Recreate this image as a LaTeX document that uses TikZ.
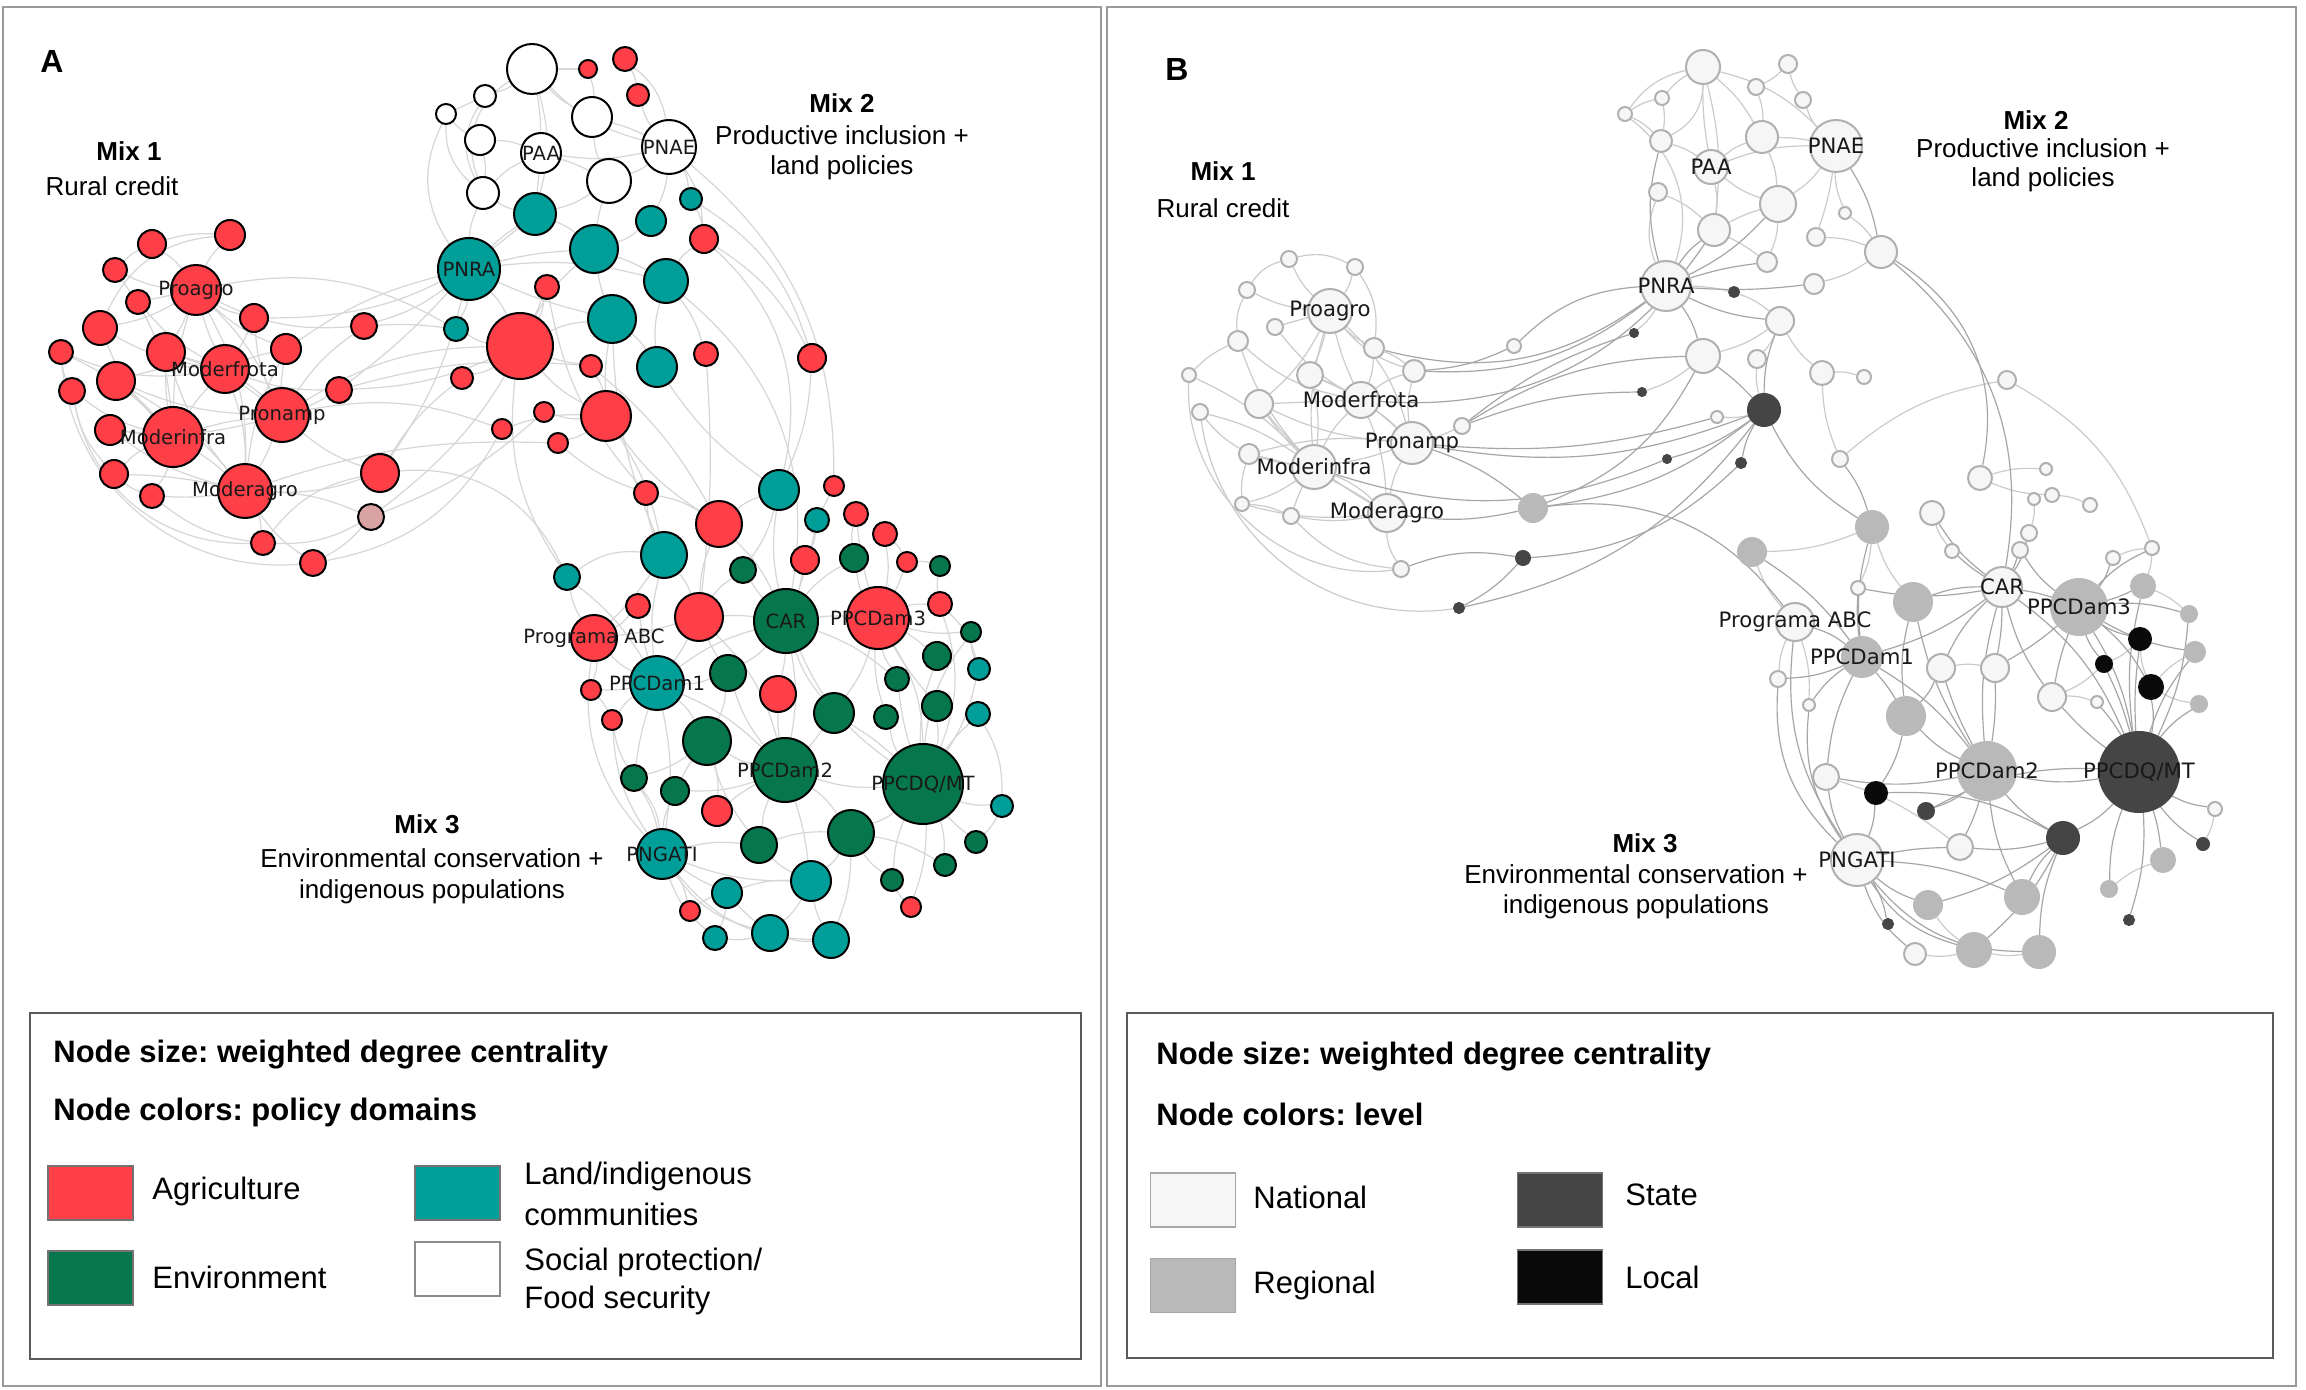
\documentclass[tikz,border=0pt]{standalone}
\usepackage{fontspec}
\setmainfont{Liberation Sans}
\newfontfamily\vfont{DejaVu Sans}
\frenchspacing
\pgfdeclarelayer{bglayer}
\pgfdeclarelayer{edgelayer}
\pgfsetlayers{bglayer,edgelayer,main}
\definecolor{cAgr}{HTML}{FF3F48}
\definecolor{cLnd}{HTML}{009E98}
\definecolor{cEnv}{HTML}{06774C}
\definecolor{cPnk}{HTML}{D9A3A3}
\definecolor{cNat}{HTML}{F6F6F6}
\definecolor{cNatD}{HTML}{B0B0B0}
\definecolor{cReg}{HTML}{B9B9B9}
\definecolor{cSta}{HTML}{454545}
\definecolor{cLoc}{HTML}{0A0A0A}
\definecolor{cEdgeA}{HTML}{D6D6D6}
\definecolor{cEdgeB}{HTML}{CBCBCB}
\definecolor{cEdgeB2}{HTML}{A6A6A6}
\definecolor{cFrame}{HTML}{9A9A9A}
\definecolor{cBox}{HTML}{5A5A5A}
\newcommand\mynd[5]{\node[#5,minimum size=#4pt] (#1) at (#2,#3) {};}
\newcommand\mylb[3]{\node[#3] (#1-t) at (#1) {#2};}
\tikzset{
  nA/.style={circle, draw=black, line width=1pt, inner sep=0pt},
  agr/.style={nA, fill=cAgr},
  lnd/.style={nA, fill=cLnd},
  env/.style={nA, fill=cEnv},
  soc/.style={nA, fill=white},
  pnk/.style={nA, fill=cPnk},
  nB/.style={circle, inner sep=0pt, line width=1pt},
  nat/.style={nB, fill=cNat, draw=cNatD},
  reg/.style={nB, fill=cReg, draw=cReg},
  sta/.style={nB, fill=cSta, draw=cSta},
  loc/.style={nB, fill=cLoc, draw=cLoc},
  eA/.style={draw=cEdgeA, line width=0.6pt},
  eB/.style={draw=cEdgeB, line width=0.6pt},
  eBd/.style={draw=cEdgeB2, line width=0.6pt},
  txtA/.style={font=\vfont\fontsize{9.8}{11}\selectfont, inner sep=0pt, text=black!90},
  txtB/.style={font=\vfont\fontsize{10.6}{12}\selectfont, inner sep=0pt, text=black!90},
  mixh/.style={font=\bfseries\fontsize{13}{15}\selectfont, inner sep=0pt},
  mixt/.style={font=\fontsize{13}{15}\selectfont, inner sep=0pt},
  legh/.style={font=\bfseries\fontsize{15.5}{18}\selectfont, anchor=west, inner sep=0pt},
  legt/.style={font=\fontsize{15.5}{18}\selectfont, anchor=west, inner sep=0pt},
  swatch/.style={rectangle, minimum width=42.5pt, minimum height=27pt, inner sep=0pt, draw=black!55, line width=0.6pt},
  panlbl/.style={font=\bfseries\fontsize{16}{18}\selectfont, inner sep=0pt}
}
\begin{document}
\begin{tikzpicture}[x=0.5pt,y=-0.5pt]
\useasboundingbox (0,0) rectangle (2306,1390);
\begin{pgfonlayer}{bglayer}
\fill[white] (0,0) rectangle (2306,1390);
\draw[cFrame, line width=1.3pt] (3,7) rectangle (1101,1386);
\draw[cFrame, line width=1.3pt] (1107,7) rectangle (2296,1386);
\end{pgfonlayer}

% ================= PANEL A nodes =================
\mynd{a1}{532}{69}{25}{soc}
\mynd{a2}{588}{69}{9}{agr}
\mynd{a3}{625}{59}{12}{agr}
\mynd{a4}{485}{96}{11}{soc}
\mynd{a5}{446}{114}{10}{soc}
\mynd{a6}{638}{95}{11}{agr}
\mynd{a7}{592}{117}{20}{soc}
\mynd{a8}{480}{140}{15}{soc}
\mynd{a9}{541}{153}{20}{soc}
\mynd{a10}{669}{147}{27}{soc}
\mynd{a11}{609}{181}{22}{soc}
\mynd{a12}{483}{193}{16}{soc}
\mynd{a13}{691}{199}{11}{lnd}
\mynd{a14}{535}{214}{21}{lnd}
\mynd{a15}{651}{221}{15}{lnd}
\mynd{a16}{704}{239}{14}{agr}
\mynd{a17}{469}{269}{31}{lnd}
\mynd{a18}{594}{249}{24}{lnd}
\mynd{a19}{547}{287}{12}{agr}
\mynd{a20}{666}{281}{22}{lnd}
\mynd{a21}{456}{329}{12}{lnd}
\mynd{a22}{520}{346}{33}{agr}
\mynd{a23}{612}{319}{24}{lnd}
\mynd{a24}{812}{358}{14}{agr}
\mynd{a25}{706}{354}{12}{agr}
\mynd{a26}{591}{366}{11}{agr}
\mynd{a27}{657}{367}{20}{lnd}
\mynd{a28}{462}{378}{11}{agr}
\mynd{a29}{544}{412}{10}{agr}
\mynd{a30}{606}{416}{25}{agr}
\mynd{a31}{502}{429}{10}{agr}
\mynd{a32}{558}{443}{10}{agr}

\mynd{m1}{230}{235}{15}{agr}
\mynd{m2}{152}{244}{14}{agr}
\mynd{m3}{115}{270}{12}{agr}
\mynd{m4}{196}{290}{25}{agr}
\mynd{m5}{138}{302}{12}{agr}
\mynd{m6}{254}{318}{14}{agr}
\mynd{m7}{100}{328}{17}{agr}
\mynd{m8}{364}{326}{13}{agr}
\mynd{m9}{61}{352}{12}{agr}
\mynd{m10}{166}{352}{19}{agr}
\mynd{m11}{286}{349}{15}{agr}
\mynd{m12}{225}{369}{24}{agr}
\mynd{m13}{116}{381}{19}{agr}
\mynd{m14}{72}{391}{13}{agr}
\mynd{m15}{339}{390}{13}{agr}
\mynd{m16}{282}{415}{27}{agr}
\mynd{m17}{110}{430}{15}{agr}
\mynd{m18}{173}{437}{30}{agr}
\mynd{m19}{114}{474}{14}{agr}
\mynd{m20}{245}{491}{27}{agr}
\mynd{m21}{380}{473}{19}{agr}
\mynd{m22}{371}{517}{13}{pnk}
\mynd{m23}{152}{496}{12}{agr}
\mynd{m24}{263}{543}{12}{agr}
\mynd{m25}{313}{563}{13}{agr}

\mynd{c1}{646}{493}{12}{agr}
\mynd{c2}{779}{490}{20}{lnd}
\mynd{c3}{834}{486}{10}{agr}
\mynd{c4}{719}{524}{23}{agr}
\mynd{c5}{817}{520}{12}{lnd}
\mynd{c6}{856}{514}{12}{agr}
\mynd{c7}{885}{534}{12}{agr}
\mynd{c8}{664}{555}{23}{lnd}
\mynd{c9}{743}{570}{13}{env}
\mynd{c10}{805}{560}{14}{agr}
\mynd{c11}{854}{558}{14}{env}
\mynd{c12}{907}{562}{10}{agr}
\mynd{c13}{940}{566}{10}{env}
\mynd{c14}{567}{577}{13}{lnd}
\mynd{c15}{638}{606}{12}{agr}
\mynd{c16}{699}{617}{24}{agr}
\mynd{c17}{786}{621}{32}{env}
\mynd{c18}{878}{618}{31}{agr}
\mynd{c19}{940}{604}{12}{agr}
\mynd{c20}{594}{638}{23}{agr}
\mynd{c21}{971}{632}{10}{env}
\mynd{c22}{728}{673}{18}{env}
\mynd{c23}{657}{683}{27}{lnd}
\mynd{c24}{591}{690}{10}{agr}
\mynd{c25}{937}{656}{14}{env}
\mynd{c26}{979}{669}{11}{lnd}
\mynd{c27}{778}{694}{18}{agr}
\mynd{c28}{897}{679}{12}{env}
\mynd{c29}{834}{713}{20}{env}
\mynd{c30}{886}{717}{12}{env}
\mynd{c31}{937}{706}{15}{env}
\mynd{c32}{978}{714}{12}{lnd}
\mynd{c33}{612}{720}{10}{agr}
\mynd{c34}{707}{741}{24}{env}
\mynd{c35}{785}{770}{32}{env}
\mynd{c36}{923}{784}{40}{env}
\mynd{c37}{634}{778}{13}{env}
\mynd{c38}{675}{791}{14}{env}
\mynd{c39}{717}{811}{15}{agr}
\mynd{c40}{1002}{806}{11}{lnd}
\mynd{c41}{851}{833}{23}{env}
\mynd{c42}{759}{845}{18}{env}
\mynd{c43}{976}{842}{11}{env}
\mynd{c44}{662}{854}{25}{lnd}
\mynd{c45}{945}{865}{11}{env}
\mynd{c46}{811}{881}{20}{lnd}
\mynd{c47}{892}{880}{11}{env}
\mynd{c48}{727}{893}{15}{lnd}
\mynd{c49}{690}{911}{10}{agr}
\mynd{c50}{911}{907}{10}{agr}
\mynd{c51}{715}{938}{12}{lnd}
\mynd{c52}{770}{933}{18}{lnd}
\mynd{c53}{831}{940}{18}{lnd}

\mylb{a9}{PAA}{txtA}
\mylb{a10}{PNAE}{txtA}
\mylb{a17}{PNRA}{txtA}
\mylb{m4}{Proagro}{txtA}
\mylb{m12}{Moderfrota}{txtA}
\mylb{m16}{Pronamp}{txtA}
\mylb{m18}{Moderinfra}{txtA}
\mylb{m20}{Moderagro}{txtA}
\mylb{c17}{CAR}{txtA}
\mylb{c18}{PPCDam3}{txtA}
\mylb{c20}{Programa ABC}{txtA}
\mylb{c23}{PPCDam1}{txtA}
\mylb{c35}{PPCDam2}{txtA}
\mylb{c36}{PPCDQ/MT}{txtA}
\mylb{c44}{PNGATI}{txtA}

\begin{pgfonlayer}{edgelayer}
\foreach \u/\v/\b in {m4/m1/10, m4/m2/-10, m4/m3/10, m4/m5/0, m4/m6/-10, m4/m7/10, m4/m10/5, m4/m12/-5, m4/m16/10, m4/m18/-8, m4/m20/15, m4/m11/-10, m4/m8/-15,
m12/m5/10, m12/m6/-5, m12/m7/10, m12/m10/0, m12/m11/5, m12/m13/-10, m12/m16/5, m12/m18/-5, m12/m20/10, m12/m15/-10, m12/m9/15,
m16/m6/10, m16/m10/-10, m16/m11/5, m16/m13/10, m16/m15/-5, m16/m17/10, m16/m18/-5, m16/m20/5, m16/m21/-10, m16/m8/10,
m18/m7/10, m18/m9/-10, m18/m10/5, m18/m13/-5, m18/m14/10, m18/m17/0, m18/m19/-10, m18/m20/5, m18/m23/10, m18/m3/-15,
m20/m10/10, m20/m13/-10, m20/m17/10, m20/m19/-5, m20/m21/-10, m20/m22/10, m20/m23/5, m20/m24/10, m20/m25/-10, m20/m11/10,
m9/m25/-45, m14/m24/-40, m7/m1/30, m2/m1/10, m3/m2/10, m9/m14/-10, m14/m19/-15, m19/m23/-10, m23/m24/-15, m24/m22/-15, m22/m25/10,
m11/a17/10, m8/a17/-10, m15/a22/-10, m16/a22/15, m21/a17/-10, m21/a28/10, m16/a31/15, m20/a32/10, m22/a19/-15, m8/a21/5, m6/a14/-20, m15/a26/10, m22/a29/-10, m21/c14/35, m4/a21/20, m25/a31/-25, m24/m21/20, m15/a17/-5,
a1/a4/10, a1/a7/-10, a1/a9/5, a1/a10/-15, a1/a14/15, a1/a2/0, a4/a5/0, a5/a8/-10, a8/a9/10, a9/a10/-10, a9/a11/5, a9/a14/0, a10/a11/10, a10/a7/-5, a10/a13/10, a10/a16/15, a7/a11/-10, a11/a14/10, a11/a18/-5, a12/a17/-10, a12/a9/10, a14/a17/-5, a14/a18/10, a17/a18/5, a17/a22/10, a17/a23/-5, a17/a20/10, a18/a22/-10, a18/a20/5, a18/a23/-5, a22/a23/10, a22/a30/-10, a23/a27/10, a23/a30/-5, a20/a27/-10, a20/a25/10, a22/a26/-5, a26/a30/10, a29/a30/-10, a31/a30/10, a32/a30/-10, a15/a18/10, a15/a10/-10, a3/a6/10, a6/a10/-10, a2/a7/10, a12/a14/-10, a8/a12/10, a5/a12/-25, a17/a21/10, a21/a22/-10, a19/a22/10, a28/a22/-10, a4/a12/-30, a13/a16/10, a16/a20/-10, a5/a17/-30, a1/a12/-40, a3/a10/20,
a16/c2/30, a24/c2/10, a24/a16/-15, a10/c3/25, a30/c4/-10, a30/c8/10, a27/c2/-10, a25/c16/5, a22/c14/-20, a20/c17/30, a13/a24/20, a23/c8/-10, a19/c1/-15, a32/c1/-10, a26/c4/10,
c17/c2/10, c17/c4/-10, c17/c9/5, c17/c10/-5, c17/c11/10, c17/c16/-5, c17/c18/5, c17/c22/10, c17/c23/-10, c17/c27/5, c17/c29/-10, c17/c35/10, c17/c36/-15, c17/c28/10, c17/c5/-5,
c18/c6/5, c18/c7/-10, c18/c11/10, c18/c12/-5, c18/c19/10, c18/c21/-10, c18/c25/5, c18/c28/-10, c18/c29/10, c18/c31/-5, c18/c36/15, c18/c30/-10,
c35/c22/10, c35/c23/-10, c35/c27/5, c35/c29/-5, c35/c34/10, c35/c36/-10, c35/c38/10, c35/c39/-5, c35/c41/10, c35/c42/-10, c35/c46/5, c35/c16/-15,
c36/c25/10, c36/c26/-10, c36/c28/5, c36/c29/-5, c36/c30/10, c36/c31/-10, c36/c32/5, c36/c40/-10, c36/c41/10, c36/c43/-5, c36/c45/10, c36/c47/-10, c36/c21/15, c36/c19/-20,
c23/c8/10, c23/c14/-10, c23/c15/5, c23/c16/-5, c23/c20/10, c23/c22/-10, c23/c24/5, c23/c33/-10, c23/c34/10, c23/c37/-5, c23/c44/10,
c44/c37/-10, c44/c38/10, c44/c48/-5, c44/c49/10, c44/c51/-15, c44/c52/-20, c44/c53/-25, c44/c42/10, c44/c46/-10, c44/c33/15, c44/c20/25,
c16/c4/10, c16/c8/-10, c16/c20/5, c16/c22/-5, c16/c9/10,
c34/c22/-10, c34/c37/10, c34/c38/-5, c34/c39/10, c34/c42/-10,
c41/c46/10, c41/c47/-10, c41/c45/10, c41/c42/-10, c41/c53/10,
c46/c48/-10, c46/c52/10, c46/c53/-10, c46/c42/10,
c52/c51/10, c52/c53/-10, c52/c48/5,
c20/c14/10, c20/c15/-10, c20/c24/10, c20/c8/-5,
c14/c8/20, c2/c4/-10, c2/c9/10, c3/c5/0, c5/c10/10, c6/c11/-10, c7/c12/10, c13/c19/-10, c12/c13/10, c1/c4/10, c1/c8/-10, c19/c26/15, c21/c26/-10, c32/c40/15, c43/c40/-10, c50/c47/10, c50/c36/-10, c24/c33/10, c33/c37/-10, c37/c44/15, c49/c48/10, c51/c48/-10}
  \draw[eA] (\u) to[bend left=\b] (\v);
\end{pgfonlayer}

% labels panel A
\node[panlbl] (lblA) at (52,61) {A};
\node[mixh] (mixA1) at (129,151) {Mix 1};
\node[mixt] (mixA1t) at (112,186) {Rural credit};
\node[mixh] (mixA2) at (842,103) {Mix 2};
\node[mixt] (mixA2t) at (842,135) {Productive inclusion +};
\node[mixt] (mixA2u) at (842,168) {land policies};
\node[mixh] (mixA3) at (427,824) {Mix 3};
\node[mixt] (mixA3t) at (432,858) {Environmental conservation +};
\node[mixt] (mixA3u) at (432,892) {indigenous populations};

% legend A
\draw[cBox, line width=1pt] (30,1013) rectangle (1081,1359);
\node[legh] (lgA1) at (53,1055) {Node size: weighted degree centrality};
\node[legh] (lgA2) at (53,1112) {Node colors: policy domains};
\node[swatch, fill=cAgr] (swAgr) at (90.5,1193) {};
\node[swatch, fill=cEnv] (swEnv) at (90.5,1278) {};
\node[swatch, fill=cLnd] (swLnd) at (457.5,1193) {};
\node[swatch, fill=white, draw=black!45] (swSoc) at (457.5,1269) {};
\node[legt] (lgAgr) at (152,1191) {Agriculture};
\node[legt] (lgEnv) at (152,1277) {Environment};
\node[legt] (lgLnd1) at (524,1176) {Land/indigenous};
\node[legt] (lgLnd2) at (524,1214) {communities};
\node[legt] (lgSoc1) at (524,1262) {Social protection/};
\node[legt] (lgSoc2) at (524,1300) {Food security};

% ================= PANEL B nodes =================
\mynd{n1}{1703}{67}{17}{nat}
\mynd{n2}{1788}{64}{9}{nat}
\mynd{n3}{1662}{98}{7}{nat}
\mynd{n4}{1756}{87}{8}{nat}
\mynd{n5}{1625}{114}{7}{nat}
\mynd{n6}{1803}{100}{8}{nat}
\mynd{n7}{1661}{141}{11}{nat}
\mynd{n8}{1762}{137}{16}{nat}
\mynd{n9}{1836}{146}{26}{nat}
\mynd{n10}{1711}{167}{17}{nat}
\mynd{n11}{1658}{192}{9}{nat}
\mynd{n12}{1778}{204}{18}{nat}
\mynd{n13}{1845}{213}{6}{nat}
\mynd{n14}{1714}{230}{16}{nat}
\mynd{n15}{1816}{237}{9}{nat}
\mynd{n16}{1881}{252}{16}{nat}
\mynd{n17}{1767}{262}{10}{nat}
\mynd{n18}{1666}{286}{25}{nat}
\mynd{n19}{1734}{292}{5}{sta}
\mynd{n20}{1814}{284}{10}{nat}
\mynd{n21}{1780}{321}{14}{nat}
\mynd{n22}{1634}{333}{4}{sta}
\mynd{n23}{1703}{356}{17}{nat}
\mynd{n24}{1757}{359}{9}{nat}
\mynd{n25}{1822}{373}{12}{nat}
\mynd{n26}{1864}{377}{7}{nat}
\mynd{n27}{2007}{380}{9}{nat}
\mynd{n28}{1642}{392}{4}{sta}
\mynd{n29}{1764}{410}{16}{sta}
\mynd{n30}{1717}{417}{6}{nat}
\mynd{n31}{1667}{459}{4}{sta}
\mynd{n32}{1741}{463}{5}{sta}
\mynd{n33}{1840}{459}{8}{nat}
\mynd{n34}{1514}{346}{7}{nat}
\mynd{n35}{1980}{478}{12}{nat}
\mynd{n36}{2046}{469}{6}{nat}
\mynd{n37}{2052}{495}{7}{nat}
\mynd{n38}{2034}{499}{6}{nat}
\mynd{n39}{2090}{505}{7}{nat}

\mynd{p1}{1289}{259}{8}{nat}
\mynd{p2}{1355}{267}{8}{nat}
\mynd{p3}{1247}{290}{8}{nat}
\mynd{p4}{1330}{311}{22}{nat}
\mynd{p5}{1275}{327}{8}{nat}
\mynd{p6}{1238}{341}{10}{nat}
\mynd{p7}{1374}{348}{10}{nat}
\mynd{p8}{1189}{375}{7}{nat}
\mynd{p9}{1310}{375}{13}{nat}
\mynd{p10}{1414}{371}{11}{nat}
\mynd{p11}{1259}{404}{14}{nat}
\mynd{p12}{1361}{400}{18}{nat}
\mynd{p13}{1200}{412}{8}{nat}
\mynd{p14}{1462}{426}{8}{nat}
\mynd{p15}{1412}{443}{21}{nat}
\mynd{p16}{1249}{454}{10}{nat}
\mynd{p17}{1314}{467}{22}{nat}
\mynd{p18}{1242}{504}{7}{nat}
\mynd{p19}{1291}{516}{8}{nat}
\mynd{p20}{1387}{513}{19}{nat}
\mynd{p21}{1401}{569}{8}{nat}
\mynd{p22}{1533}{508}{14}{reg}
\mynd{p23}{1523}{558}{7}{sta}
\mynd{p24}{1459}{608}{5}{sta}

\mynd{q1}{1932}{513}{12}{nat}
\mynd{q2}{1872}{527}{16}{reg}
\mynd{q3}{2029}{533}{8}{nat}
\mynd{q4}{1752}{552}{14}{reg}
\mynd{q5}{1952}{551}{7}{nat}
\mynd{q6}{2020}{550}{8}{nat}
\mynd{q7}{2113}{558}{7}{nat}
\mynd{q8}{2152}{548}{7}{nat}
\mynd{q9}{1858}{588}{7}{nat}
\mynd{q10}{1913}{602}{19}{reg}
\mynd{q11}{2002}{587}{20}{nat}
\mynd{q12}{2079}{607}{28}{reg}
\mynd{q13}{2143}{586}{12}{reg}
\mynd{q14}{2189}{614}{8}{reg}
\mynd{q15}{1795}{622}{19}{nat}
\mynd{q16}{2140}{639}{11}{loc}
\mynd{q17}{1862}{657}{20}{reg}
\mynd{q18}{1941}{668}{14}{nat}
\mynd{q19}{1995}{668}{14}{nat}
\mynd{q20}{2104}{664}{8}{loc}
\mynd{q21}{2195}{652}{10}{reg}
\mynd{q22}{1778}{679}{8}{nat}
\mynd{q23}{2151}{687}{12}{loc}
\mynd{q24}{2052}{697}{14}{nat}
\mynd{q25}{2097}{702}{6}{nat}
\mynd{q26}{1809}{705}{6}{nat}
\mynd{q27}{2199}{704}{8}{reg}
\mynd{q28}{1906}{716}{19}{reg}
\mynd{q29}{1987}{771}{29}{reg}
\mynd{q30}{2139}{772}{40}{sta}
\mynd{q31}{1826}{777}{13}{nat}
\mynd{q32}{1876}{793}{11}{loc}
\mynd{q33}{1926}{811}{8}{sta}
\mynd{q34}{2215}{809}{7}{nat}
\mynd{q35}{2063}{838}{16}{sta}
\mynd{q36}{1960}{847}{13}{nat}
\mynd{q37}{2203}{844}{6}{sta}
\mynd{q38}{1857}{860}{26}{nat}
\mynd{q39}{2163}{860}{12}{reg}
\mynd{q40}{1928}{905}{14}{reg}
\mynd{q41}{2022}{897}{17}{reg}
\mynd{q42}{2109}{889}{8}{reg}
\mynd{q43}{1888}{924}{5}{sta}
\mynd{q44}{2129}{920}{5}{sta}
\mynd{q45}{1915}{954}{11}{nat}
\mynd{q46}{1974}{950}{17}{reg}
\mynd{q47}{2039}{952}{16}{reg}

\mylb{n10}{PAA}{txtB}
\mylb{n9}{PNAE}{txtB}
\mylb{n18}{PNRA}{txtB}
\mylb{p4}{Proagro}{txtB}
\mylb{p12}{Moderfrota}{txtB}
\mylb{p15}{Pronamp}{txtB}
\mylb{p17}{Moderinfra}{txtB}
\mylb{p20}{Moderagro}{txtB}
\mylb{q11}{CAR}{txtB}
\mylb{q12}{PPCDam3}{txtB}
\mylb{q15}{Programa ABC}{txtB}
\mylb{q17}{PPCDam1}{txtB}
\mylb{q29}{PPCDam2}{txtB}
\mylb{q30}{PPCDQ/MT}{txtB}
\mylb{q38}{PNGATI}{txtB}

\begin{pgfonlayer}{edgelayer}
\foreach \u/\v/\b in {p4/p1/10, p4/p2/-10, p4/p3/10, p4/p5/0, p4/p7/-10, p4/p9/5, p4/p12/-5, p4/p15/15, p4/p17/-10, p4/p10/-15, p4/p11/10,
p12/p5/10, p12/p9/-5, p12/p10/10, p12/p11/0, p12/p15/5, p12/p17/-10, p12/p20/10, p12/p7/-10, p12/p6/15,
p15/p9/-10, p15/p10/10, p15/p14/-5, p15/p17/5, p15/p20/-10, p15/p11/10, p15/p16/-10,
p17/p6/10, p17/p8/-10, p17/p11/5, p17/p13/-10, p17/p16/5, p17/p18/10, p17/p19/-5, p17/p20/10, p17/p9/-10,
p20/p11/10, p20/p16/-10, p20/p19/10, p20/p21/-15, p20/p18/10,
p8/p21/-50, p13/p24/-45, p1/p3/-20, p1/p2/20, p6/p8/-10, p3/p6/-15, p13/p16/-10, p16/p18/-10, p18/p19/10, p19/p21/-20, p2/p7/20, p7/p10/10,
n1/n3/-10, n1/n8/10, n1/n10/-5, n1/n9/15, n1/n14/10, n1/n5/-20, n2/n4/10, n2/n6/-10, n3/n5/-10, n4/n8/10, n6/n9/-10, n7/n10/10, n8/n9/5, n8/n10/-10, n8/n12/10, n9/n10/-10, n9/n12/10, n9/n13/-10, n9/n15/5, n10/n14/10, n10/n12/-10, n11/n14/10, n12/n14/-5, n14/n17/5, n18/n19/5, n19/n21/10, n20/n16/-10, n21/n23/10, n24/n29/-10, n29/n30/10, n23/n28/10, n22/n18/-10, n25/n21/10, n26/n25/-10, n15/n16/10, n25/n33/-10, n35/n36/10, n35/n37/-10, n37/n39/10, n38/q3/10, n27/q8/20, n27/n33/-15, n5/n7/10, n3/n7/10, n11/n18/-20, n12/n17/10, n24/n21/-10, n13/n16/10, n1/n7/30, n5/n18/35,
q16/q20/10, q16/q23/-10, q13/q14/10, q21/q23/-10, q27/q23/10, q25/q24/-10, q34/q37/10, q39/q42/-10, q3/q6/10, q1/q5/-10, q7/q8/10, q13/q8/-10, q18/q19/10, q24/q20/-10, q36/q31/-10,
q15/q4/10, q15/q22/-10, q15/q26/10, q2/q4/10, q2/q10/-10, q2/q9/10, q46/q45/10, q46/q47/-10, q46/q40/10}
  \draw[eB] (\u) to[bend left=\b] (\v);
\foreach \u/\v/\b in {p10/n18/-20, p10/n34/-10, p14/n23/15, p15/n29/-15, p15/p22/10, p20/p22/-10, p21/p23/15, p22/n29/-15, p22/n23/-20, p23/p24/10, p24/n29/-20, p22/q15/30, p7/n18/-25, n34/n18/20, p14/n22/10, p15/n30/-10, p12/n14/-30, p17/n31/-20, p23/n32/-20, p14/n28/10,
n7/n18/-15, n12/n18/10, n14/n18/-10, n17/n18/-5, n18/n21/-10, n18/n23/10, n18/n20/-5, n21/n29/-10, n23/n29/5, n29/n32/-10, n29/n31/10, n9/n16/10, n16/n35/35, n16/q11/30, n33/q2/10, n29/q2/-15,
q11/q1/10, q11/q3/-10, q11/q5/5, q11/q6/-5, q11/q9/10, q11/q10/-10, q11/q12/5, q11/q17/10, q11/q18/-10, q11/q19/5, q11/q29/-10, q11/q30/15, q11/q24/-10,
q12/q6/10, q12/q7/-10, q12/q8/10, q12/q13/-5, q12/q14/10, q12/q16/-10, q12/q19/5, q12/q20/-10, q12/q23/10, q12/q24/-5, q12/q30/10, q12/q21/-10,
q29/q10/10, q29/q17/-10, q29/q18/5, q29/q19/-5, q29/q28/10, q29/q30/-10, q29/q33/10, q29/q35/-10, q29/q36/5, q29/q41/-10, q29/q31/10,
q30/q13/10, q30/q14/-10, q30/q16/5, q30/q20/-5, q30/q21/10, q30/q23/-10, q30/q24/5, q30/q25/-5, q30/q27/10, q30/q34/-10, q30/q35/10, q30/q37/-10, q30/q39/5, q30/q42/-10, q30/q44/10, q30/q33/-15,
q17/q2/10, q17/q4/-10, q17/q9/5, q17/q15/-10, q17/q22/10, q17/q26/-10, q17/q28/5, q17/q31/-10,
q38/q31/10, q38/q32/-10, q38/q36/5, q38/q40/-10, q38/q41/10, q38/q45/-15, q38/q46/-20, q38/q47/-25, q38/q43/10, q38/q26/20, q38/q22/25, q15/q38/-20,
q35/q40/10, q35/q41/-10, q35/q46/10, q35/q47/-10, q35/q36/10, q35/q32/-15, q28/q10/10, q28/q18/-10, q28/q32/10}
  \draw[eBd] (\u) to[bend left=\b] (\v);
\end{pgfonlayer}

% labels panel B
\node[panlbl] (lblB) at (1177,69) {B};
\node[mixh] (mixB1) at (1223,171) {Mix 1};
\node[mixt] (mixB1t) at (1223,208) {Rural credit};
\node[mixh] (mixB2) at (2036,120) {Mix 2};
\node[mixt] (mixB2t) at (2043,148) {Productive inclusion +};
\node[mixt] (mixB2u) at (2043,180) {land policies};
\node[mixh] (mixB3) at (1645,843) {Mix 3};
\node[mixt] (mixB3t) at (1636,874) {Environmental conservation +};
\node[mixt] (mixB3u) at (1636,907) {indigenous populations};

% legend B
\draw[cBox, line width=1pt] (1127,1013) rectangle (2273,1358);
\node[legh] (lgB1) at (1156,1057) {Node size: weighted degree centrality};
\node[legh] (lgB2) at (1156,1114) {Node colors: level};
\node[swatch, fill=cNat, draw=black!35] (swNat) at (1193,1200) {};
\node[swatch, fill=cReg, draw=black!35] (swReg) at (1193,1285.5) {};
\node[swatch, fill=cSta] (swSta) at (1560,1200) {};
\node[swatch, fill=cLoc] (swLoc) at (1560,1277) {};
\node[legt] (lgNat) at (1253,1197) {National};
\node[legt] (lgReg) at (1253,1285) {Regional};
\node[legt] (lgSta) at (1625,1195) {State};
\node[legt] (lgLoc) at (1625,1277) {Local};
\end{tikzpicture}
\end{document}
